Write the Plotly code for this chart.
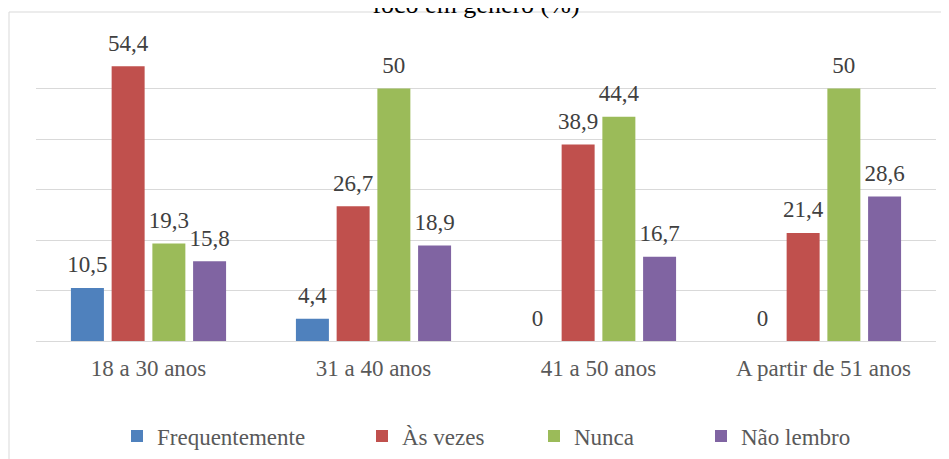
import plotly.graph_objects as go

categories = ["18 a 30 anos", "31 a 40 anos", "41 a 50 anos", "A partir de 51 anos"]
series_names = ["Frequentemente", "Às vezes", "Nunca", "Não lembro"]
frequentemente = [10.5, 4.4, 0, 0]
as_vezes = [54.4, 26.7, 38.9, 21.4]
nunca = [19.3, 50, 44.4, 50]
nao_lembro = [15.8, 18.9, 16.7, 28.6]
title_text = "foco em gênero (%)"

colors = ["#4F81BD", "#C0504D", "#9BBB59", "#8064A2"]
all_values = [frequentemente, as_vezes, nunca, nao_lembro]

# page body has an 8px margin: figure coordinates = screen coordinates - 8
OFF = 8
W, H = 949 - OFF, 459 - OFF
ml, mr, mt, mb = 36 - OFF, 13, 38 - OFF, 118
FONT = "Liberation Serif, Times New Roman, serif"
GAP = 0.276

def fmt(v):
    return f"{v:g}".replace(".", ",")

fig = go.Figure()
legend_ids = ["legend", "legend2", "legend3", "legend4"]
legend_px = [109, 354, 526, 693]
for i, (name, vals) in enumerate(zip(series_names, all_values)):
    fig.add_trace(go.Bar(
        x=categories, y=vals, name=name,
        marker=dict(color=colors[i], line=dict(width=0)),
        legend=legend_ids[i], hoverinfo="skip",
    ))
for i, (name, vals) in enumerate(zip(series_names, all_values)):
    fig.add_trace(go.Scatter(
        x=categories, y=vals, mode="markers+text",
        text=[fmt(v) for v in vals], textposition="top center",
        textfont=dict(family=FONT, size=23, color="#404040"),
        marker=dict(size=14, opacity=0, color=colors[i]),
        showlegend=False, hoverinfo="skip", cliponaxis=False,
    ))

layout_legends = {}
for i, lid in enumerate(legend_ids):
    layout_legends[lid] = dict(
        x=legend_px[i] / W, xref="container", xanchor="left",
        y=1 - (436 - OFF) / H, yref="container", yanchor="middle",
        orientation="h", font=dict(family=FONT, size=23, color="#595959"),
        bgcolor="rgba(0,0,0,0)", borderwidth=0, itemwidth=30,
    )

fig.update_layout(
    width=W, height=H,
    margin=dict(l=ml, r=mr, t=mt, b=mb, autoexpand=False),
    paper_bgcolor="white", plot_bgcolor="white",
    barmode="group", bargap=GAP, bargroupgap=0.19,
    scattermode="group", scattergap=GAP,
    title=dict(text=title_text, x=(476 - OFF) / W, xanchor="center",
               y=1 - (13 - OFF) / H, yref="container", yanchor="bottom",
               font=dict(family=FONT, size=26, color="#000000")),
    xaxis=dict(showgrid=False, showline=True, linecolor="#d9d9d9", linewidth=1,
               ticks="outside", ticklen=6, tickcolor="rgba(0,0,0,0)",
               tickfont=dict(family=FONT, size=23, color="#595959"),
               automargin=False, fixedrange=True),
    yaxis=dict(range=[0, 60], dtick=10, showgrid=True, gridcolor="#d9d9d9",
               gridwidth=1, showticklabels=False, zeroline=False, showline=False,
               automargin=False, fixedrange=True),
    showlegend=True,
    **layout_legends,
)

plot_h = H - mt - mb
fig.add_shape(type="rect", xref="paper", yref="paper",
              x0=(9 - 36) / (W - ml - mr), x1=1.1,
              y0=-0.5, y1=1 + (mt - (12 - OFF)) / plot_h,
              line=dict(color="#d9d9d9", width=1), fillcolor="rgba(0,0,0,0)",
              layer="below")

fig.write_html("out.html")
